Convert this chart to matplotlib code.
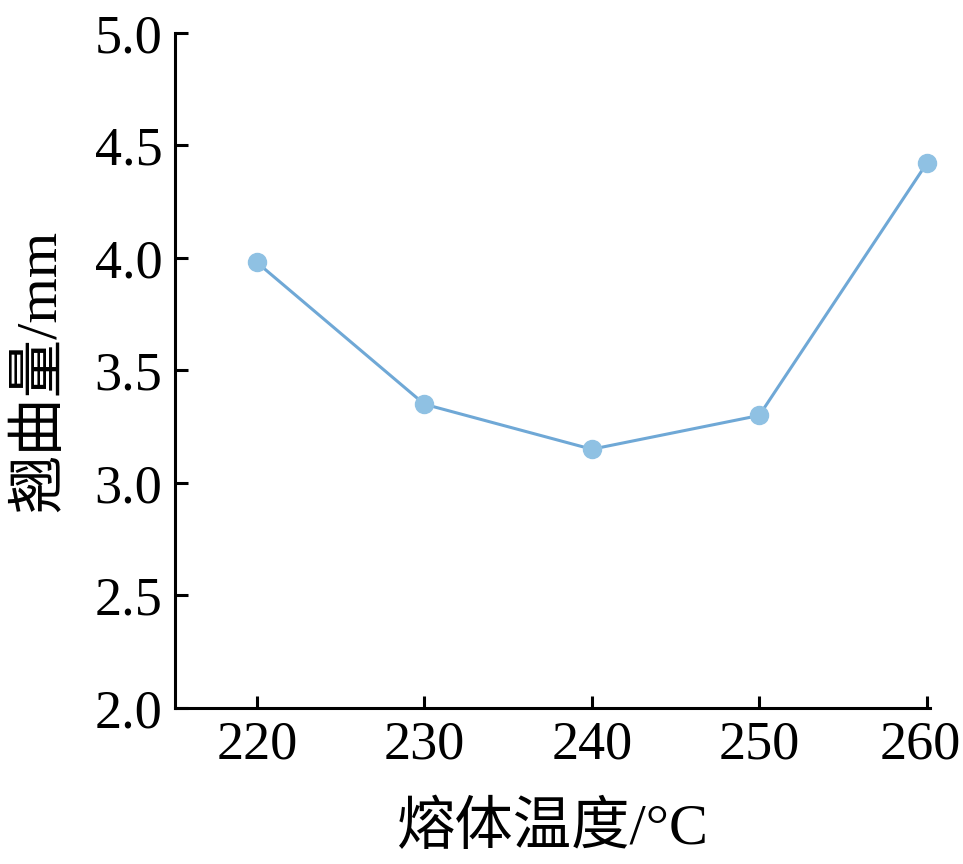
import matplotlib
matplotlib.use("Agg")
import matplotlib.pyplot as plt
import matplotlib.transforms as mtransforms

# 数据
temps = [220, 230, 240, 250, 260]
warpage = [3.98, 3.35, 3.15, 3.30, 4.42]
yticks = [2.0, 2.5, 3.0, 3.5, 4.0, 4.5, 5.0]

plt.rcParams['font.family'] = ['Liberation Serif', 'Noto Sans CJK SC']

fig = plt.figure(figsize=(9.63, 8.64), dpi=100)
ax = fig.add_axes([0.1817, 0.1806, 0.9657 - 0.1817, 0.9618 - 0.1806])

ax.plot(temps, warpage, color='#6fa8d6', linewidth=2.2,
        marker='o', markersize=13, markerfacecolor='#8fc1e3',
        markeredgecolor='#8fc1e3', clip_on=False)

ax.set_xlim(215.1, 260.2)
ax.set_ylim(2.0, 5.0)
ax.set_xticks(temps)
ax.set_yticks(yticks)
ax.set_yticklabels([f"{v:.1f}" for v in yticks])

for side in ['top', 'right']:
    ax.spines[side].set_visible(False)
for side in ['left', 'bottom']:
    ax.spines[side].set_linewidth(2.2)

ax.tick_params(direction='in', length=9, width=2.2, labelsize=39)
ax.tick_params(axis='y', pad=9)
ax.tick_params(axis='x', pad=9)

# 最右侧刻度标签稍向左移，避免被裁切
last = ax.get_xticklabels()[-1]
last.set_transform(last.get_transform() +
                   mtransforms.ScaledTranslation(-6 / 100, 0, fig.dpi_scale_trans))

ax.set_xlabel("熔体温度/°C", fontsize=42, labelpad=22)
ax.set_ylabel("翘曲量/mm", fontsize=42, labelpad=20)

fig.savefig("out.png", dpi=100)
